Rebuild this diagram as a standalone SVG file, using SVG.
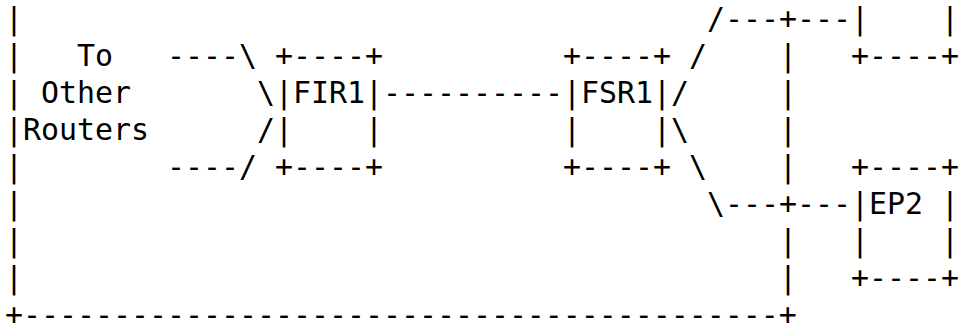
<svg xmlns="http://www.w3.org/2000/svg" width="959" height="333" viewBox="0 0 959 333">
<style>
text { font-family: "DejaVu Sans Mono", "Liberation Mono", monospace; font-size: 29.9px; fill: #000; white-space: pre; }
</style>
<rect width="959" height="333" fill="#fff"/>
<g id="domain">
<text x="5" y="29">|</text>
<text x="5" y="66">|</text>
<text x="5" y="103">|</text>
<text x="5" y="140">|</text>
<text x="5" y="177">|</text>
<text x="5" y="214">|</text>
<text x="5" y="251">|</text>
<text x="5" y="288">|</text>
<text x="5" y="325">+------------------------------------------+</text>
<text x="779" y="66">|</text>
<text x="779" y="103">|</text>
<text x="779" y="140">|</text>
<text x="779" y="177">|</text>
<text x="779" y="251">|</text>
<text x="779" y="288">|</text>
</g>
<g id="label-other-routers">
<text x="77" y="66">To</text>
<text x="41" y="103">Other</text>
<text x="23" y="140">Routers</text>
</g>
<g id="FIR1">
<text x="275" y="66">+----+</text>
<text x="275" y="103">|FIR1|</text>
<text x="275" y="140">|</text>
<text x="365" y="140">|</text>
<text x="275" y="177">+----+</text>
</g>
<g id="FSR1">
<text x="563" y="66">+----+</text>
<text x="563" y="103">|FSR1|</text>
<text x="563" y="140">|</text>
<text x="653" y="140">|</text>
<text x="563" y="177">+----+</text>
</g>
<g id="EP1">
<text x="851" y="29">|</text>
<text x="941" y="29">|</text>
<text x="851" y="66">+----+</text>
</g>
<g id="EP2">
<text x="851" y="177">+----+</text>
<text x="851" y="214">|EP2</text>
<text x="941" y="214">|</text>
<text x="851" y="251">|</text>
<text x="941" y="251">|</text>
<text x="851" y="288">+----+</text>
</g>
<g id="connectors">
<text x="167" y="66">----\</text>
<text x="257" y="103">\</text>
<text x="257" y="140">/</text>
<text x="167" y="177">----/</text>
<text x="383" y="103">----------</text>
<text x="689" y="66">/</text>
<text x="671" y="103">/</text>
<text x="671" y="140">\</text>
<text x="689" y="177">\</text>
<text x="707" y="29">/---+---</text>
<text x="707" y="214">\---+---</text>
</g>
</svg>
